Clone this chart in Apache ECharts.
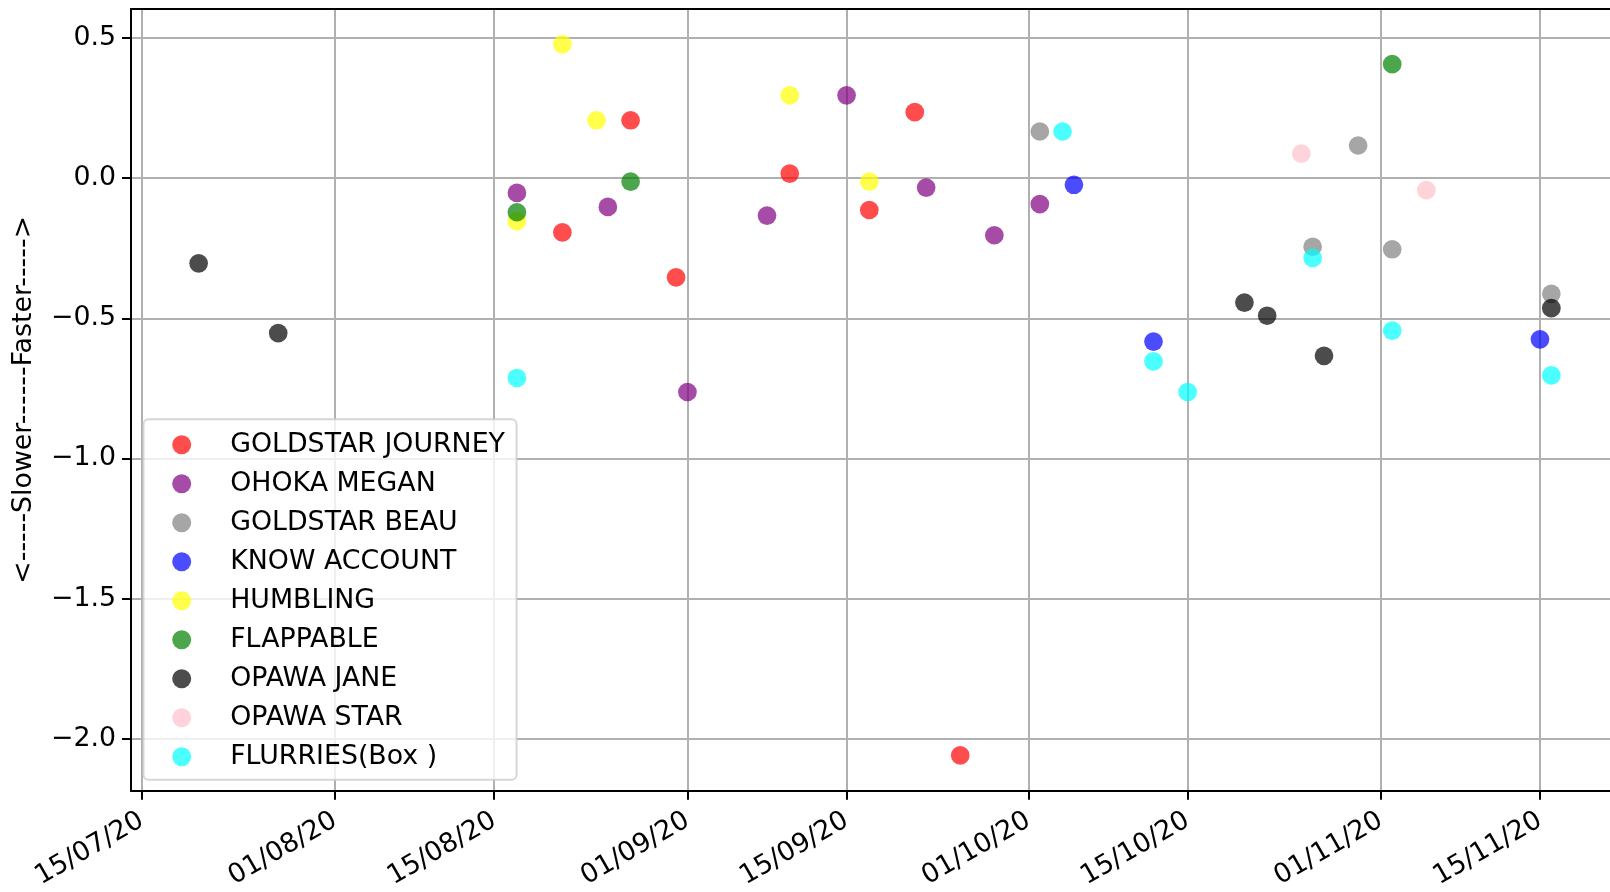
<!DOCTYPE html>
<html>
<head>
<meta charset="utf-8">
<script src="https://cdn.jsdelivr.net/npm/echarts@6/dist/echarts.min.js"></script>
<style>
html, body { margin: 0; padding: 0; background: #fff; }
#chart { width: 1610px; height: 892px; }
</style>
</head>
<body>
<div id="chart"></div>
<script>
// ---- data ----
const seriesNames = ['GOLDSTAR JOURNEY', 'OHOKA MEGAN', 'GOLDSTAR BEAU', 'KNOW ACCOUNT', 'HUMBLING', 'FLAPPABLE', 'OPAWA JANE', 'OPAWA STAR', 'FLURRIES(Box )'];
const seriesColors = ['#ff0000', '#800080', '#808080', '#0000ff', '#ffff00', '#008000', '#000000', '#ffc0cb', '#00ffff'];

const goldstarJourney = [['2020-08-21', -0.194], ['2020-08-27', 0.206], ['2020-08-31', -0.354], ['2020-09-10', 0.016], ['2020-09-17', -0.114], ['2020-09-21', 0.235], ['2020-09-25', -2.059]];
const ohokaMegan = [['2020-08-17', -0.053], ['2020-08-25', -0.103], ['2020-09-01', -0.763], ['2020-09-08', -0.134], ['2020-09-15', 0.295], ['2020-09-22', -0.034], ['2020-09-28', -0.204], ['2020-10-02', -0.093]];
const goldstarBeau = [['2020-10-02', 0.166], ['2020-10-26', -0.245], ['2020-10-30', 0.116], ['2020-11-02', -0.254], ['2020-11-16', -0.413]];
const knowAccount = [['2020-10-05', -0.024], ['2020-10-12', -0.583], ['2020-11-15', -0.575]];
const humbling = [['2020-08-17', -0.154], ['2020-08-21', 0.477], ['2020-08-24', 0.206], ['2020-09-10', 0.295], ['2020-09-17', -0.013]];
const flappable = [['2020-08-17', -0.122], ['2020-08-27', -0.013], ['2020-11-02', 0.406]];
const opawaJane = [['2020-07-20', -0.304], ['2020-07-27', -0.553], ['2020-10-20', -0.444], ['2020-10-22', -0.491], ['2020-10-27', -0.634], ['2020-11-16', -0.464]];
const opawaStar = [['2020-10-25', 0.087], ['2020-11-05', -0.043]];
const flurries = [['2020-08-17', -0.713], ['2020-10-04', 0.166], ['2020-10-12', -0.654], ['2020-10-15', -0.763], ['2020-10-26', -0.285], ['2020-11-02', -0.544], ['2020-11-16', -0.704]];

const xTickDates = ['2020-07-15', '2020-08-01', '2020-08-15', '2020-09-01', '2020-09-15', '2020-10-01', '2020-10-15', '2020-11-01', '2020-11-15'];
const xTickLabels = ['15/07/20', '01/08/20', '15/08/20', '01/09/20', '15/09/20', '01/10/20', '15/10/20', '01/11/20', '15/11/20'];
const yTickValues = [-2.0, -1.5, -1.0, -0.5, 0.0, 0.5];
const yTickLabels = ['\u22122.0', '\u22121.5', '\u22121.0', '\u22120.5', '0.0', '0.5'];
const yAxisName = '<-----Slower------Faster----->';

// visible x range (days relative to 15/07/20) and y range
const xMinDays = -0.95;
const xMaxDays = 129.16;
const yMin = -2.1845;
const yMax = 0.6028;

// ---- build ----
const DAY = 86400000;
const ts = s => Date.parse(s + 'T00:00:00Z');
const xTickValues = xTickDates.map(ts);
const base = ts('2020-07-15');
const allData = [goldstarJourney, ohokaMegan, goldstarBeau, knowAccount, humbling, flappable, opawaJane, opawaStar, flurries];

const FONT = 'DejaVu Sans';
const FS = 26.8;

function xLabel(v) {
  for (let i = 0; i < xTickValues.length; i++) {
    if (Math.abs(xTickValues[i] - v) < DAY / 2) return xTickLabels[i];
  }
  return '';
}
function yLabel(v) {
  for (let i = 0; i < yTickValues.length; i++) {
    if (Math.abs(yTickValues[i] - v) < 1e-6) return yTickLabels[i];
  }
  return '';
}

const chart = echarts.init(document.getElementById('chart'), null, { renderer: 'canvas' });
chart.setOption({
  animation: false,
  backgroundColor: '#ffffff',
  textStyle: { fontFamily: FONT },
  grid: { left: 131, top: 9, right: 0, bottom: 100, show: false },
  legend: {
    orient: 'vertical',
    left: 143.5,
    top: 419.3,
    data: seriesNames,
    icon: 'circle',
    itemWidth: 19,
    itemHeight: 19,
    itemGap: 12.0,
    padding: [12, 11.6, 9.4, 28.7],
    backgroundColor: 'rgba(255,255,255,0.8)',
    borderColor: 'rgba(204,204,204,0.8)',
    borderWidth: 2,
    borderRadius: 5,
    textStyle: { fontFamily: FONT, fontSize: FS, color: '#000', lineHeight: 26, padding: [0, 0, 0, 34] }
  },
  xAxis: [{
    type: 'value',
    min: base + xMinDays * DAY,
    max: base + xMaxDays * DAY,
    axisLine: { show: true, onZero: false, lineStyle: { color: '#000', width: 2 } },
    axisTick: { show: true, length: 9, lineStyle: { color: '#000', width: 2 }, customValues: xTickValues },
    axisLabel: {
      customValues: xTickValues, rotate: 30, margin: 28,
      fontFamily: FONT, fontSize: FS, color: '#000',
      formatter: xLabel
    },
    splitLine: { show: true, lineStyle: { color: '#b0b0b0', width: 2 } }
  }, {
    type: 'value',
    position: 'top',
    min: base + xMinDays * DAY,
    max: base + xMaxDays * DAY,
    axisLine: { show: true, onZero: false, lineStyle: { color: '#000', width: 2 } },
    axisTick: { show: false },
    axisLabel: { show: false },
    splitLine: { show: false }
  }],
  yAxis: {
    type: 'value',
    min: yMin,
    max: yMax,
    name: yAxisName,
    nameLocation: 'middle',
    nameRotate: 90,
    nameGap: 93,
    nameTextStyle: { fontFamily: FONT, fontSize: FS, color: '#000' },
    axisLine: { show: true, lineStyle: { color: '#000', width: 2 } },
    axisTick: { show: true, length: 9, lineStyle: { color: '#000', width: 2 }, customValues: yTickValues },
    axisLabel: {
      customValues: yTickValues, margin: 15,
      fontFamily: FONT, fontSize: FS, color: '#000',
      formatter: yLabel
    },
    splitLine: { show: true, lineStyle: { color: '#b0b0b0', width: 2 } }
  },
  series: seriesNames.map((name, i) => ({
    name: name,
    type: 'scatter',
    xAxisIndex: 0,
    symbol: 'circle',
    symbolSize: 18.7,
    itemStyle: { color: seriesColors[i], opacity: 0.7 },
    emphasis: { disabled: true },
    data: allData[i].map(d => [ts(d[0]), d[1]])
  }))
});
</script>
</body>
</html>
